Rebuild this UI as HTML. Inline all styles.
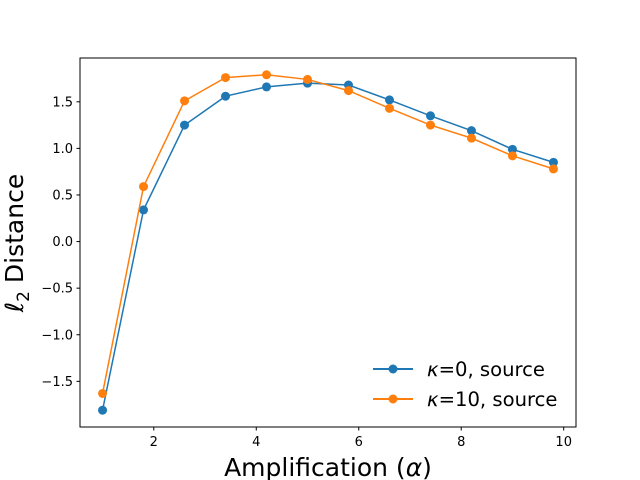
<!DOCTYPE html>
<html><head><meta charset="utf-8"><style>
body{margin:0;background:#fff}
svg{display:block;font-family:"DejaVu Sans","Liberation Sans",sans-serif}
</style></head><body>
<svg id="chart" width="640" height="480" viewBox="0 0 640 480" xmlns="http://www.w3.org/2000/svg">
<rect x="80" y="58" width="496" height="369" fill="#fff" stroke="#000" stroke-width="1"/>
<g id="xt"></g>
<g id="yt"></g>
<g id="series"></g>
<text x="328" y="476" font-size="25" text-anchor="middle">Amplification (<tspan font-style="italic">α</tspan>)</text>
<text transform="translate(23,243) rotate(-90)" font-size="25" text-anchor="middle"><tspan font-style="italic">ℓ</tspan><tspan font-size="17" dy="6">2</tspan><tspan dy="-6"> Distance</tspan></text>
<g>
<g>
<line x1="373" y1="369" x2="413" y2="369" stroke="#1f77b4" stroke-width="2"/><circle cx="393" cy="369" r="4.5" fill="#1f77b4"/>
<text x="427" y="376" font-size="19.6"><tspan font-style="italic">κ</tspan>=0, source</text></g>
<g>
<line x1="373" y1="399" x2="413" y2="399" stroke="#ff7f0e" stroke-width="2"/><circle cx="393" cy="399" r="4.5" fill="#ff7f0e"/>
<text x="427" y="406" font-size="19.6"><tspan font-style="italic">κ</tspan>=10, source</text></g>
</g>
</svg>
<script>
const xs=[1,1.8,2.6,3.4,4.2,5.0,5.8,6.6,7.4,8.2,9.0,9.8];
const blue=[-1.81,0.34,1.25,1.56,1.66,1.70,1.68,1.52,1.35,1.19,0.99,0.85];
const orange=[-1.63,0.59,1.51,1.76,1.79,1.74,1.62,1.43,1.25,1.11,0.92,0.78];
const xTicks=[2,4,6,8,10];
const yTicks=[-1.5,-1.0,-0.5,0.0,0.5,1.0,1.5];
const X0=80,X1=576,Y0=427,Y1=58,xmin=0.56,xmax=10.24,ymin=-1.99,ymax=1.97;
const sx=v=>X0+(v-xmin)/(xmax-xmin)*(X1-X0);
const sy=v=>Y0-(v-ymin)/(ymax-ymin)*(Y0-Y1);
const NS="http://www.w3.org/2000/svg";
function mk(t,a,p){const e=document.createElementNS(NS,t);for(const k in a)e.setAttribute(k,a[k]);p.appendChild(e);return e;}
const xt=document.getElementById('xt'),yt=document.getElementById('yt'),sg=document.getElementById('series');
xTicks.forEach(v=>{const x=sx(v);
 const l=mk('line',{x1:x,y1:Y0,x2:x,y2:Y0+3.5,stroke:'#000'},xt);
 
 
 const t=mk('text',{x:x,y:Y0+19,'font-size':13,'text-anchor':'middle'},xt);t.textContent=v;
 
 });
yTicks.forEach(v=>{const y=sy(v);
 const l=mk('line',{x1:X0-3.5,y1:y,x2:X0,y2:y,stroke:'#000'},yt);
 
 
 const t=mk('text',{x:X0-7,y:y+4.5,'font-size':13,'text-anchor':'end'},yt);t.textContent=(v<0?'\u2212':'')+Math.abs(v).toFixed(1);
 
 });
[[blue,'#1f77b4','kappa0'],[orange,'#ff7f0e','kappa10']].forEach(([d,c,n])=>{
 const g=mk('g',{},sg);
 
 
 const pl=mk('polyline',{points:d.map((v,i)=>sx(xs[i])+','+sy(v)).join(' '),fill:'none',stroke:c,'stroke-width':1.5},g);
 
 
 d.forEach((v,i)=>{const p=mk('circle',{cx:sx(xs[i]),cy:sy(v),r:4.5,fill:c},g);
  
  });
});
</script>
</body></html>
